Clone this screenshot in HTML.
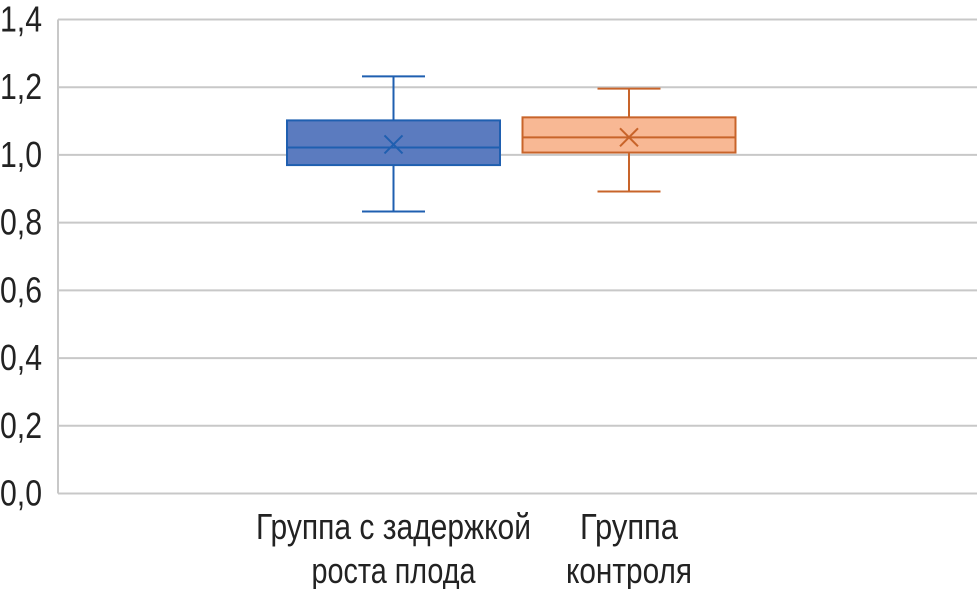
<!DOCTYPE html>
<html><head><meta charset="utf-8"><style>
body{margin:0;background:#fff;}
svg text{font-family:"Liberation Sans Narrow","Liberation Sans",sans-serif;font-size:36px;fill:#222;}
</style></head><body>
<svg id="c" width="977" height="589"></svg>
<script>
const categories=[["Группа с задержкой","роста плода"],["Группа","контроля"]];
const q1s=[0.970,1.007];
const q3s=[1.102,1.111];
const medians=[1.022,1.052];
const mins=[0.833,0.892];
const maxs=[1.232,1.196];
const means=[1.031,1.052];
const ticks=["0,0","0,2","0,4","0,6","0,8","1,0","1,2","1,4"];
const tickVals=[0,0.2,0.4,0.6,0.8,1.0,1.2,1.4];
const strokes=["#1f5fb0","#c8642a"];
const fills=["#5b7bbf","#f8b894"];
const svg=document.getElementById('c');const NS="http://www.w3.org/2000/svg";
const L=58,R=977,T=19.5,B=493.5;
const y=v=>B-(v/1.4)*(B-T);
const centers=[393.5,629];const bw=213,cap=63;
function mk(t,a,p){const e=document.createElementNS(NS,t);for(const k in a)e.setAttribute(k,a[k]);(p||svg).appendChild(e);return e;}
tickVals.forEach((v,i)=>{
 const g=mk('line',{x1:L,x2:R,y1:y(v),y2:y(v),stroke:"#c8c8c8","stroke-width":2});
 
 
 const t=mk('text',{x:0,y:y(v)+12,textLength:42,lengthAdjust:"spacingAndGlyphs"});t.textContent=ticks[i];
 
 
});
const ax=mk('line',{x1:L,x2:L,y1:T,y2:B,stroke:"#c8c8c8","stroke-width":2});


const widths=[[275,164],[98,126]];
categories.forEach((c,i)=>{
 const cx=centers[i],s=strokes[i];
 const g=mk('g',{});
 
 
 mk('line',{x1:cx,x2:cx,y1:y(maxs[i]),y2:y(q3s[i]),stroke:s,"stroke-width":2},g);
 mk('line',{x1:cx,x2:cx,y1:y(q1s[i]),y2:y(mins[i]),stroke:s,"stroke-width":2},g);
 mk('line',{x1:cx-cap/2,x2:cx+cap/2,y1:y(maxs[i]),y2:y(maxs[i]),stroke:s,"stroke-width":2},g);
 mk('line',{x1:cx-cap/2,x2:cx+cap/2,y1:y(mins[i]),y2:y(mins[i]),stroke:s,"stroke-width":2},g);
 mk('rect',{x:cx-bw/2,y:y(q3s[i]),width:bw,height:y(q1s[i])-y(q3s[i]),fill:fills[i],stroke:s,"stroke-width":2},g);
 mk('line',{x1:cx-bw/2,x2:cx+bw/2,y1:y(medians[i]),y2:y(medians[i]),stroke:s,"stroke-width":2},g);
 const my=y(means[i]);
 mk('path',{d:`M${cx-9} ${my-9}L${cx+9} ${my+9}M${cx+9} ${my-9}L${cx-9} ${my+9}`,stroke:s,"stroke-width":2},g);
 c.forEach((ln,j)=>{const t=mk('text',{x:cx,y:539+j*44,"text-anchor":"middle",textLength:widths[i][j],lengthAdjust:"spacingAndGlyphs"});t.textContent=ln;
  
  });
});
</script>
</body></html>
